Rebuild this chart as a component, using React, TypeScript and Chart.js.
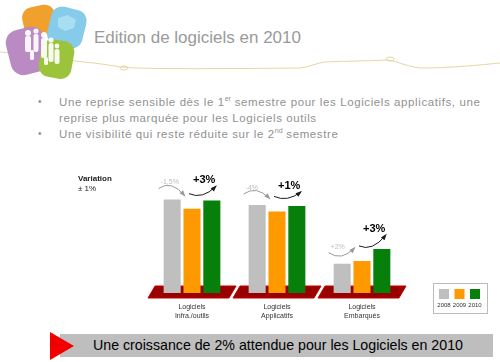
import React, { useEffect, useRef } from "react";
import { Chart, registerables } from "chart.js";

Chart.register(...registerables);

const categories = [
  ["Logiciels", "Infra./outils"],
  ["Logiciels", "Applicatifs"],
  ["Logiciels", "Embarqués"],
];
const years = ["2008", "2009", "2010"];
const values2008 = [102, 96, 32];
const values2009 = [92, 89, 35];
const values2010 = [101, 95, 48];
const change0809 = ["-1,5%", "-4%", "+2%"];
const change0910 = ["+3%", "+1%", "+3%"];
const yearColors = ["#BFBFBF", "#FF9900", "#077F0B"];

const FONT = "'Liberation Sans', Arial, sans-serif";

function curveArrow(
  ctx: CanvasRenderingContext2D,
  sx: number, sy: number, qx: number, qy: number, ex: number, ey: number, color: string
) {
  ctx.beginPath();
  ctx.moveTo(sx, sy);
  ctx.quadraticCurveTo(qx, qy, ex, ey);
  ctx.strokeStyle = color;
  ctx.lineWidth = 1;
  ctx.stroke();
  const a = Math.atan2(ey - qy, ex - qx);
  const L = 5, W = 2.3;
  ctx.beginPath();
  ctx.moveTo(ex + Math.cos(a) * 1.5, ey + Math.sin(a) * 1.5);
  ctx.lineTo(ex - L * Math.cos(a) + W * Math.sin(a), ey - L * Math.sin(a) - W * Math.cos(a));
  ctx.lineTo(ex - L * Math.cos(a) - W * Math.sin(a), ey - L * Math.sin(a) + W * Math.cos(a));
  ctx.closePath();
  ctx.fillStyle = color;
  ctx.fill();
}

const platformPlugin = {
  id: "platforms",
  beforeDatasetsDraw(chart: any) {
    const { ctx, scales } = chart;
    const x = scales.x, y = scales.y;
    const base = y.getPixelForValue(0);
    ctx.save();
    categories.forEach((_, i) => {
      const cx = x.getPixelForValue(i);
      ctx.beginPath();
      ctx.moveTo(cx - 37, base - 7);
      ctx.lineTo(cx + 44, base - 7);
      ctx.lineTo(cx + 37, base + 5);
      ctx.lineTo(cx - 44, base + 5);
      ctx.closePath();
      ctx.fillStyle = "#980000";
      ctx.fill();
      ctx.strokeStyle = "#C40000";
      ctx.lineWidth = 1;
      ctx.stroke();
    });
    ctx.restore();
  },
};

const arrowsPlugin = {
  id: "arrows",
  afterDatasetsDraw(chart: any) {
    const { ctx } = chart;
    const m0 = chart.getDatasetMeta(0).data;
    const m1 = chart.getDatasetMeta(1).data;
    const m2 = chart.getDatasetMeta(2).data;
    ctx.save();
    categories.forEach((_, i) => {
      const g = m0[i].getProps(["x", "y", "width"], true);
      const o = m1[i].getProps(["x", "y", "width"], true);
      const gr = m2[i].getProps(["x", "y", "width"], true);
      // grey arrow 2008 -> 2009
      const sx = g.x - g.width / 2 - 5, sy = g.y - 11;
      const ex = o.x - o.width / 2 + 1, ey = o.y - 13;
      const neg = change0809[i].startsWith("-");
      const qy = neg ? Math.min(sy, ey) - 9 : Math.max(sy, ey) + 9;
      curveArrow(ctx, sx, sy, (sx + ex) / 2, qy, ex, ey, "#9A9A9A");
      ctx.fillStyle = "#BDBDBD";
      ctx.font = `7px ${FONT}`;
      ctx.textAlign = "left";
      ctx.textBaseline = "middle";
      ctx.fillText(change0809[i], g.x - g.width / 2 - 3, g.y - 17);
      // black arrow 2009 -> 2010
      const bsx = o.x - 3, bsy = o.y - 15;
      const bex = gr.x + 4, bey = gr.y - 14;
      curveArrow(ctx, bsx, bsy, (bsx + bex) / 2, Math.max(bsy, bey) + 6, bex, bey, "#1A1A1A");
      ctx.fillStyle = "#000000";
      ctx.font = `bold 11px ${FONT}`;
      ctx.fillText(change0910[i], o.x + 1, Math.min(bsy, bey) - 6);
    });
    ctx.restore();
  },
};

const legendPlugin = {
  id: "boxLegend",
  afterDraw(chart: any) {
    const { ctx } = chart;
    const bx = 433, by = 283, bw = 54, bh = 30;
    ctx.save();
    ctx.fillStyle = "#FFFFFF";
    ctx.fillRect(bx + 0.5, by + 0.5, bw, bh);
    ctx.strokeStyle = "#BBBBBB";
    ctx.lineWidth = 1;
    ctx.strokeRect(bx + 0.5, by + 0.5, bw, bh);
    chart.data.datasets.forEach((ds: any, k: number) => {
      const ix = bx + 6 + k * 15.5;
      ctx.fillStyle = ds.backgroundColor;
      ctx.fillRect(ix, by + 6, 10, 10);
      ctx.fillStyle = "#333333";
      ctx.font = `6px ${FONT}`;
      ctx.textAlign = "center";
      ctx.textBaseline = "middle";
      ctx.fillText(ds.label, ix + 5, by + 22);
    });
    ctx.restore();
  },
};

function ChartCanvas() {
  const ref = useRef<HTMLCanvasElement | null>(null);
  useEffect(() => {
    if (!ref.current) return;
    const series = [values2008, values2009, values2010];
    const chart = new Chart(ref.current, {
      type: "bar",
      data: {
        labels: categories as any,
        datasets: years.map((yr, k) => ({
          label: yr,
          data: series[k],
          backgroundColor: yearColors[k],
          borderWidth: 0,
          barPercentage: 0.86,
          categoryPercentage: 0.7,
        })),
      },
      options: {
        responsive: false,
        animation: false,
        events: [],
        layout: { padding: { left: 149.5, right: 95.5, top: 183, bottom: 32.2 } },
        scales: {
          x: {
            grid: { display: false, drawTicks: false },
            border: { display: false },
            ticks: {
              font: { size: 7, family: FONT },
              color: "#333333",
              padding: 10,
              maxRotation: 0,
              autoSkip: false,
            },
          },
          y: { display: false, min: 0, max: 120 },
        },
        plugins: { legend: { display: false }, tooltip: { enabled: false } },
      },
      plugins: [platformPlugin, arrowsPlugin, legendPlugin],
    });
    return () => chart.destroy();
  }, []);
  return (
    <canvas
      ref={ref}
      width={500}
      height={362}
      style={{ position: "absolute", left: 0, top: 0, width: 500, height: 362 }}
    />
  );
}

function Logo() {
  return (
    <svg width={100} height={85} style={{ position: "absolute", left: 0, top: 0 }}>
      <rect x={23} y={6} width={33} height={30} rx={10} fill="#F0A02C" transform="rotate(-12 39 21)" />
      <rect x={49} y={8} width={36} height={39} rx={11} fill="#86CBEA" transform="rotate(14 67 27)" />
      <path d="M58 18 l10 -3 l8 5 l-2 8 l-9 3 l-7 -4z" fill="#A8DDF2" />
      <rect x={8} y={28} width={39} height={46} rx={13} fill="#B98BC2" transform="rotate(-14 27 51)" />
      <rect x={40} y={40} width={33} height={38} rx={11} fill="#9CC33C" transform="rotate(10 56 59)" />
      <g fill="#FFFFFF" opacity={0.92}>
        <circle cx={28} cy={33} r={3} />
        <rect x={25} y={36} width={6} height={16} rx={2} />
        <circle cx={36} cy={31} r={2.6} />
        <rect x={33.5} y={34} width={5} height={18} rx={2} />
        <circle cx={44} cy={35} r={3} />
        <rect x={41} y={38} width={6} height={20} rx={2} />
        <circle cx={51} cy={40} r={2.6} />
        <rect x={48.5} y={43} width={5} height={19} rx={2} />
        <circle cx={57} cy={46} r={2.4} />
        <rect x={54.5} y={49} width={5} height={15} rx={2} />
        <rect x={30} y={50} width={4} height={10} rx={1.5} />
        <rect x={44} y={57} width={4} height={8} rx={1.5} />
      </g>
    </svg>
  );
}

function Wave() {
  return (
    <svg width={500} height={85} style={{ position: "absolute", left: 0, top: 0 }}>
      <g fill="none" stroke="#E6D5A6" strokeWidth={1}>
        <path d="M0 52 C25 54 50 58 75 61 C95 63 110 65 120 67 C140 69 200 69 300 68 C310 67 316 63 325 62 C345 61 370 61 388 60 C400 62 405 66 420 68 C450 68 480 65 500 63" />
        <ellipse cx={124} cy={68} rx={4} ry={2} />
        <ellipse cx={390} cy={59} rx={4} ry={2} />
      </g>
    </svg>
  );
}

export default function App() {
  const gray = "#919191";
  const supStyle = { fontSize: 7, lineHeight: 0, letterSpacing: 0 } as const;
  return (
    <div
      style={{
        position: "absolute",
        left: 0,
        top: 0,
        width: 500,
        height: 362,
        overflow: "hidden",
        background: "#FFFFFF",
        fontFamily: FONT,
      }}
    >
      <Wave />
      <Logo />
      <div
        style={{
          position: "absolute",
          left: 94,
          top: 28,
          fontSize: 17,
          lineHeight: "20px",
          color: "#9A9A9A",
          whiteSpace: "nowrap",
        }}
      >
        Edition de logiciels en 2010
      </div>
      <div
        style={{
          position: "absolute",
          left: 38,
          top: 94,
          fontSize: 11.5,
          letterSpacing: "0.6px",
          lineHeight: "16px",
          color: gray,
        }}
      >
        <div style={{ display: "flex", whiteSpace: "nowrap" }}>
          <span style={{ width: 21, fontSize: 10 }}>•</span>
          <span>
            Une reprise sensible dès le 1<sup style={supStyle}>er</sup> semestre pour les Logiciels
            applicatifs, une
            <br />
            reprise plus marquée pour les Logiciels outils
          </span>
        </div>
        <div style={{ display: "flex", whiteSpace: "nowrap" }}>
          <span style={{ width: 21, fontSize: 10 }}>•</span>
          <span>
            Une visibilité qui reste réduite sur le 2<sup style={supStyle}>nd</sup> semestre
          </span>
        </div>
      </div>
      <ChartCanvas />
      <div
        style={{
          position: "absolute",
          left: 78,
          top: 174,
          fontSize: 8,
          lineHeight: "10px",
          color: "#222222",
        }}
      >
        <div style={{ fontWeight: "bold" }}>Variation</div>
        <div>± 1%</div>
      </div>
      <div
        style={{
          position: "absolute",
          left: 60,
          top: 334,
          width: 433,
          height: 23,
          background: "#BEBEBE",
        }}
      />
      <svg width={30} height={30} style={{ position: "absolute", left: 48, top: 331 }}>
        <polygon points="2,1 26,15 2,29" fill="#F20000" />
      </svg>
      <div
        style={{
          position: "absolute",
          left: 93,
          top: 336,
          fontSize: 14.2,
          lineHeight: "18px",
          color: "#000000",
          whiteSpace: "nowrap",
        }}
      >
        Une croissance de 2% attendue pour les Logiciels en 2010
      </div>
    </div>
  );
}
